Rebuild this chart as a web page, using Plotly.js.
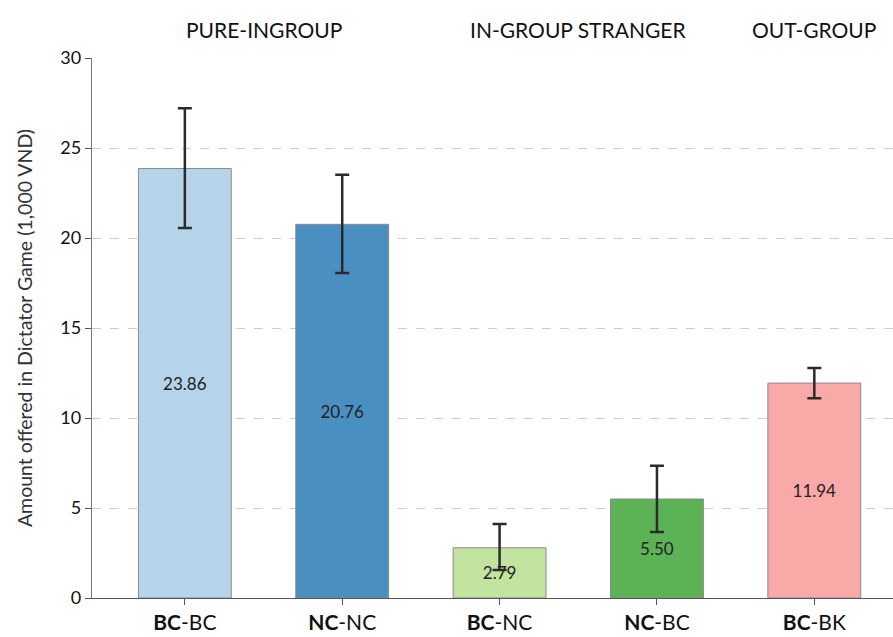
<!DOCTYPE html>
<html>
<head>
<meta charset="utf-8">
<script src="https://cdn.plot.ly/plotly-3.0.1.min.js"></script>
<style>html,body{margin:0;padding:0;background:#fff;}#chart{width:893px;height:637px;}</style>
</head>
<body>
<div id="chart"></div>
<script>
const categories = ["BC-BC", "NC-NC", "BC-NC", "NC-BC", "BC-BK"];
const tickLabels = ["<b>BC</b>-BC", "<b>NC</b>-NC", "<b>BC</b>-NC", "<b>NC</b>-BC", "<b>BC</b>-BK"];
const values = [23.86, 20.76, 2.79, 5.50, 11.94];
const errUpper = [3.35, 2.75, 1.32, 1.85, 0.84];
const errLower = [3.3, 2.7, 1.23, 1.84, 0.84];
const barColors = ["#b6d4e9", "#4a8fc2", "#c3e3a0", "#5cb356", "#f9a9a8"];
const groupNames = ["PURE-INGROUP", "IN-GROUP STRANGER", "OUT-GROUP"];
const groupCenters = [0.5, 2.5, 4];

const FONT = "Lato, 'Open Sans', sans-serif";

const trace = {
  type: "bar",
  x: categories.map((c, i) => i),
  y: values,
  width: 0.59,
  marker: {color: barColors, line: {color: "#8a8a8a", width: 1}},
  text: values.map(v => v.toFixed(2)),
  textposition: "inside",
  insidetextanchor: "middle",
  textangle: 0,
  constraintext: "none",
  textfont: {family: FONT, size: 17, color: "#222"},
  error_y: {
    type: "data", symmetric: false,
    array: errUpper, arrayminus: errLower,
    color: "#2b2b2b", thickness: 2.5, width: 7
  },
  hoverinfo: "none"
};

const layout = {
  width: 893, height: 637,
  margin: {l: 92, r: 0, t: 58, b: 39},
  paper_bgcolor: "#fff", plot_bgcolor: "#fff",
  showlegend: false,
  font: {family: FONT, color: "#222"},
  xaxis: {
    range: [-0.59, 4.5],
    tickmode: "array",
    tickvals: categories.map((c, i) => i),
    ticktext: tickLabels,
    ticks: "outside", ticklen: 6, tickcolor: "#555", tickwidth: 1,
    showline: true, linecolor: "#555", linewidth: 1.2,
    showgrid: false, zeroline: false,
    tickfont: {family: FONT, size: 21, color: "#111"}
  },
  yaxis: {
    range: [0, 30],
    tickvals: [0, 5, 10, 15, 20, 25, 30],
    ticks: "outside", ticklen: 6, tickcolor: "#555", tickwidth: 1,
    showline: true, linecolor: "#777", linewidth: 1.2,
    showgrid: true, gridcolor: "#cccccc", griddash: "dash", gridwidth: 1,
    zeroline: false,
    tickfont: {family: FONT, size: 18, color: "#111"},
    title: {text: "Amount offered in Dictator Game (1,000 VND)", font: {family: FONT, size: 19.5, color: "#333"}, standoff: 22}
  },
  annotations: groupNames.map((g, i) => ({
    text: g, x: groupCenters[i], xref: "x", y: 1.052, yref: "paper",
    xanchor: "center", yanchor: "middle", showarrow: false,
    font: {family: FONT, size: 21, color: "#111"}
  }))
};

Plotly.newPlot("chart", [trace], layout, {displayModeBar: false, staticPlot: true});
</script>
</body>
</html>
